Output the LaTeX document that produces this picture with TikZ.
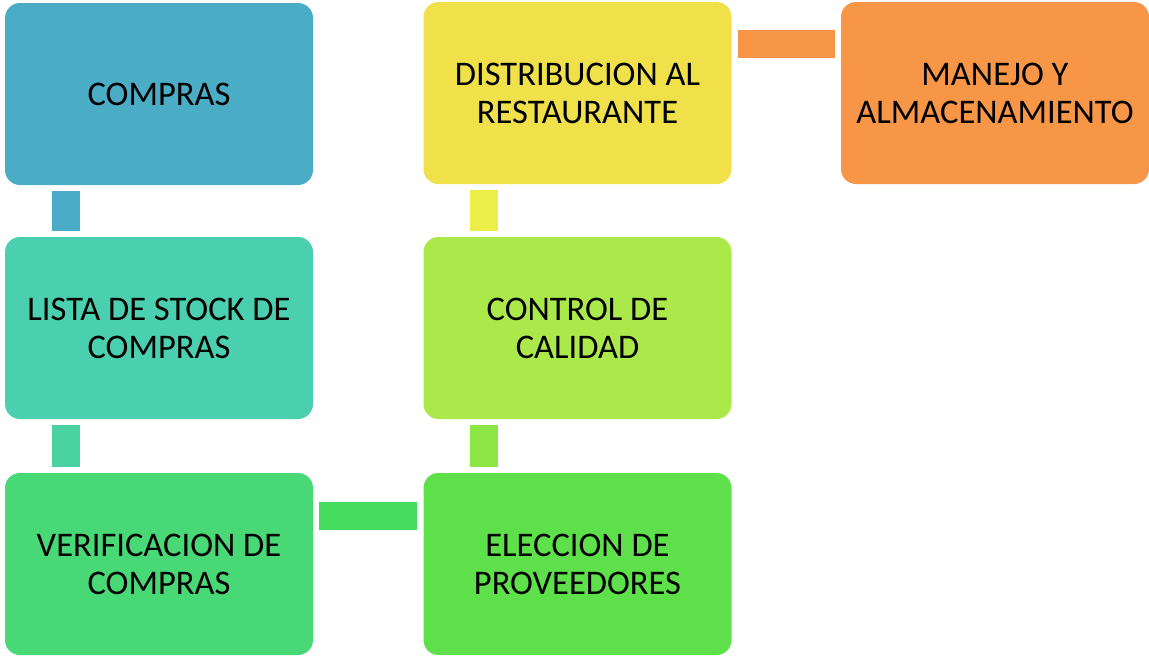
\documentclass[tikz,border=0pt]{standalone}
\usepackage{fontspec}
\setmainfont{Carlito}
\definecolor{cA}{HTML}{4BACC6}
\definecolor{cAB}{HTML}{4AACC6}
\definecolor{cB}{HTML}{4ACFAF}
\definecolor{cBC}{HTML}{4AD2A2}
\definecolor{cC}{HTML}{49D876}
\definecolor{cCD}{HTML}{45DB5F}
\definecolor{cD}{HTML}{5EE04A}
\definecolor{cDE}{HTML}{8CE646}
\definecolor{cE}{HTML}{ABE94A}
\definecolor{cEF}{HTML}{EDEE48}
\definecolor{cF}{HTML}{F0E14A}
\definecolor{cFG}{HTML}{F79646}
\definecolor{cG}{HTML}{F79646}
\tikzset{
  box/.style={rectangle, rounded corners=15pt, minimum width=308pt, minimum height=182pt,
    inner sep=0pt, align=center, text=black,
    font=\fontsize{34.5}{38}\selectfont},
  conn/.style={line width=28pt, line cap=butt, shorten <=6pt, shorten >=6pt}
}
\begin{document}
\begin{tikzpicture}[x=1pt,y=-1pt]
\useasboundingbox (0,0) rectangle (1149,656);
\node[box, fill=cA] (compras) at (159,94) {COMPRAS};
\node[box, fill=cB] (lista) at (159,328) {LISTA DE STOCK DE\\COMPRAS};
\node[box, fill=cC] (verif) at (159,564) {VERIFICACION DE\\COMPRAS};
\node[box, fill=cD] (elec) at (577.5,564) {ELECCION DE\\PROVEEDORES};
\node[box, fill=cE] (control) at (577.5,328) {CONTROL DE\\CALIDAD};
\node[box, fill=cF] (distrib) at (577.5,93) {DISTRIBUCION AL\\RESTAURANTE};
\node[box, fill=cG] (manejo) at (995,93) {MANEJO Y\\ALMACENAMIENTO};
\draw[conn, draw=cAB] ([xshift=61pt]compras.south west) -- ([xshift=61pt]lista.north west);
\draw[conn, draw=cBC] ([xshift=61pt]lista.south west) -- ([xshift=61pt]verif.north west);
\draw[conn, draw=cCD] ([yshift=-43pt]verif.north east) -- ([yshift=-43pt]elec.north west);
\draw[conn, draw=cDE] ([xshift=61pt]elec.north west) -- ([xshift=61pt]control.south west);
\draw[conn, draw=cEF] ([xshift=61pt]control.north west) -- ([xshift=61pt]distrib.south west);
\draw[conn, draw=cFG] ([yshift=-42pt]distrib.north east) -- ([yshift=-42pt]manejo.north west);
\end{tikzpicture}
\end{document}
